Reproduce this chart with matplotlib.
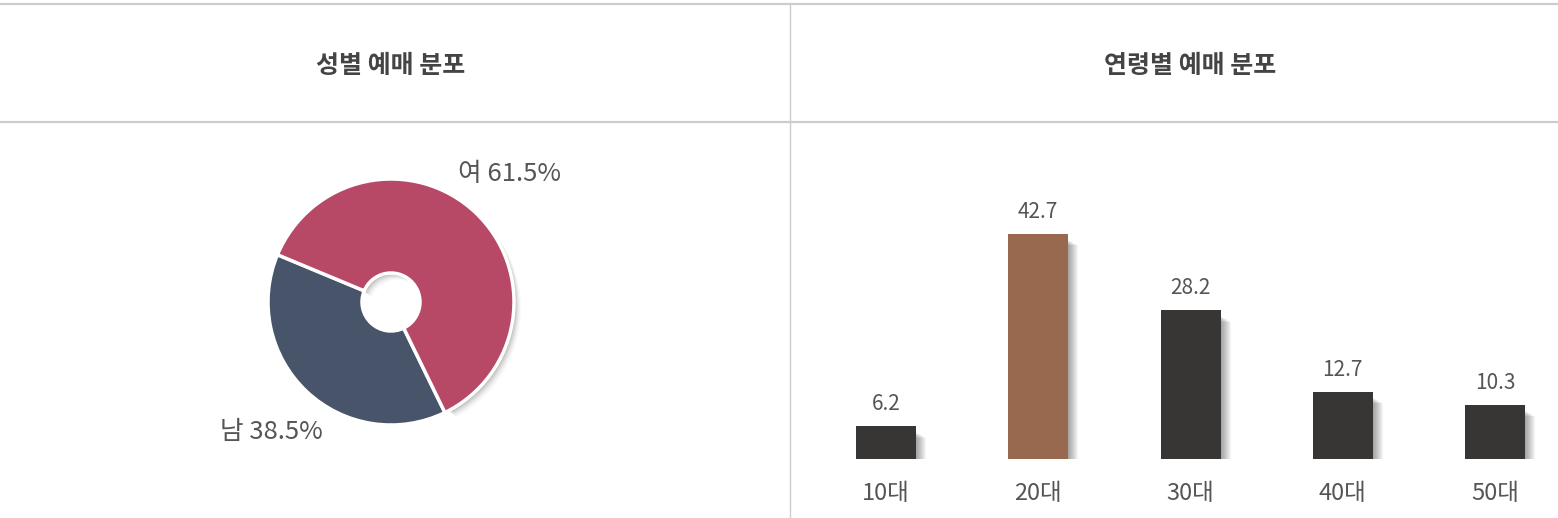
import matplotlib
matplotlib.use("Agg")
import matplotlib.pyplot as plt
from matplotlib.lines import Line2D
from matplotlib.patches import Wedge, Rectangle

plt.rcParams['font.family'] = ['Noto Sans CJK KR', 'DejaVu Sans']

# ---- data ----
titles = ["성별 예매 분포", "연령별 예매 분포"]
gender_labels = ["남", "여"]
gender_values = [38.5, 61.5]
age_labels = ["10대", "20대", "30대", "40대", "50대"]
age_values = [6.2, 42.7, 28.2, 12.7, 10.3]

W, H = 1558, 518
fig = plt.figure(figsize=(W / 100, H / 100), dpi=100)
fig.patch.set_facecolor("white")

def fx(px):
    return px / W

def fy(py):
    return 1 - py / H

# frame lines
line_c = "#cccccc"
fig.add_artist(Line2D([0, 1], [fy(4), fy(4)], color=line_c, lw=1.6, transform=fig.transFigure))
fig.add_artist(Line2D([0, 1], [fy(122), fy(122)], color=line_c, lw=1.6, transform=fig.transFigure))
fig.add_artist(Line2D([fx(790), fx(790)], [fy(4), 0], color=line_c, lw=1.0, transform=fig.transFigure))

# titles
fig.text(fx(391), fy(66), titles[0], ha="center", va="center", fontsize=18,
         fontweight="bold", color="#444444")
fig.text(fx(1190), fy(66), titles[1], ha="center", va="center", fontsize=18,
         fontweight="bold", color="#444444")

# ---- pie ----
cx, cy, r = 391, 302, 123
side = 300
axp = fig.add_axes([fx(cx - side / 2), fy(cy + side / 2), side / W, side / H])
lim = side / 2 / r

pie_colors = ["#485469", "#b74866"]
start = 157.4
hole = 29 / r
# shadow
total = sum(gender_values)
a0 = start
for v, c in zip(gender_values, pie_colors):
    a1 = a0 + v / total * 360
    if c == pie_colors[1]:
        for k, al in enumerate([0.09, 0.07, 0.05, 0.035, 0.02]):
            off = (2 + k * 1.3) / r
            axp.add_patch(Wedge((off, -off), 1.0, a0 + 2, a1 - 2, width=1 - hole,
                                facecolor="#000000", alpha=al, lw=0, zorder=1))
    a0 = a1

axp.pie(gender_values, colors=pie_colors, startangle=start, counterclock=True,
        radius=1.0, wedgeprops=dict(width=1 - hole, edgecolor="white", linewidth=2.5),
        )
for p in axp.patches:
    if p.get_zorder() < 2:
        continue
for p in axp.patches[-2:]:
    p.set_zorder(2)
axp.set_xlim(-lim, lim)
axp.set_ylim(-lim, lim)
axp.set_aspect("equal")
axp.axis("off")

fig.text(fx(458), fy(174), f"{gender_labels[1]} {gender_values[1]}%", ha="left",
         va="center", fontsize=18.5, color="#555555")
fig.text(fx(220), fy(432), f"{gender_labels[0]} {gender_values[0]}%", ha="left",
         va="center", fontsize=18.5, color="#555555")

# ---- bars ----
c0, spacing = 886, 152.25
left_px, right_px = 800, 1558
top_px, base_px = 130, 459
ppu = 5.27
axb = fig.add_axes([fx(left_px), fy(base_px), (right_px - left_px) / W, (base_px - top_px) / H])
axb.set_xlim(-(c0 - left_px) / spacing, (right_px - c0) / spacing)
axb.set_ylim(0, (base_px - top_px) / ppu)
axb.axis("off")

bw = 60 / spacing
bar_colors = ["#383634", "#98694f", "#383634", "#383634", "#383634"]
xs = list(range(len(age_values)))
# shadows
for x, v in zip(xs, age_values):
    for k in range(10):
        dx = (k + 1) / spacing
        axb.add_patch(Rectangle((x - bw / 2 + dx, 0), bw, max(v - (6 + k * 0.6) / ppu, 0),
                                facecolor="#000000", alpha=0.04, lw=0, zorder=1))
axb.bar(xs, age_values, width=bw, color=bar_colors, zorder=2)
for x, v in zip(xs, age_values):
    axb.text(x, v + 4.2, f"{v}", ha="center", va="center", fontsize=15, color="#555555")

for x, lab in zip(xs, age_labels):
    fig.text(fx(c0 + x * spacing), fy(494), lab, ha="center", va="center",
             fontsize=17, color="#555555")

fig.savefig("out.png", dpi=100, facecolor="white")
